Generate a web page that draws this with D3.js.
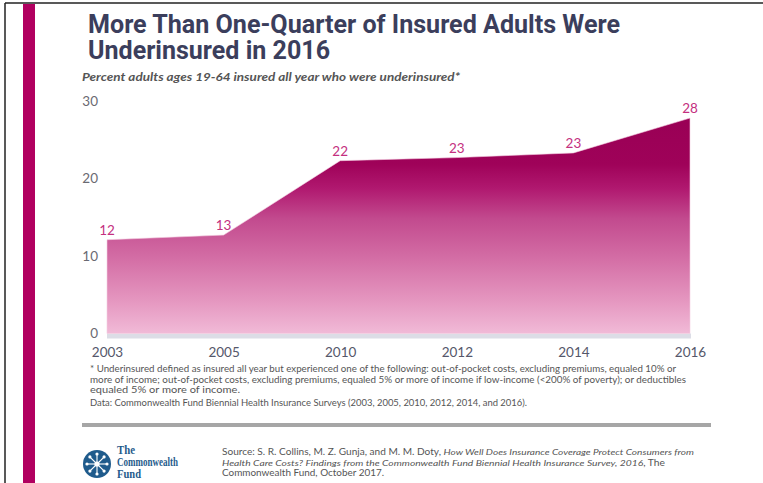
<!DOCTYPE html>
<html>
<head>
<meta charset="utf-8">
<script src="https://cdn.jsdelivr.net/npm/d3@7"></script>
<style>
  html, body { margin: 0; padding: 0; background: #fff; }
  svg { display: block; }
</style>
</head>
<body>
<script>
// ---- data ----
const years = ["2003", "2005", "2010", "2012", "2014", "2016"];
const underinsured = [12.1, 12.7, 22.3, 22.7, 23.3, 27.8];
const yTicks = [0, 10, 20, 30];
const titleLines = ["More Than One-Quarter of Insured Adults Were", "Underinsured in 2016"];
const subtitle = "Percent adults ages 19-64 insured all year who were underinsured*";
const footnotes = [
  "* Underinsured defined as insured all year but experienced one of the following: out-of-pocket costs, excluding premiums, equaled 10% or",
  "more of income; out-of-pocket costs, excluding premiums, equaled 5% or more of income if low-income (<200% of poverty); or deductibles",
  "equaled 5% or more of income.",
  "Data: Commonwealth Fund Biennial Health Insurance Surveys (2003, 2005, 2010, 2012, 2014, and 2016)."
];
const logoLines = ["The", "Commonwealth", "Fund"];

const W = 763, H = 483;
const svg = d3.select("body").append("svg").attr("width", W).attr("height", H);

// frame
svg.append("rect").attr("x", 0).attr("y", 0).attr("width", W).attr("height", H).attr("fill", "#fff");
svg.append("line").attr("x1", 5).attr("x2", W).attr("y1", 3).attr("y2", 3).attr("stroke", "#222").attr("stroke-width", 1.5);
svg.append("line").attr("x1", 5).attr("x2", 5).attr("y1", 3).attr("y2", H).attr("stroke", "#222").attr("stroke-width", 1.5);
svg.append("rect").attr("x", 23).attr("y", 4).attr("width", 12).attr("height", H - 4).attr("fill", "#b10060");

// title
const titleFont = "Roboto, 'Liberation Sans', sans-serif";
const tW = [532, 242];
const tY = [32.5, 59];
titleLines.forEach((t, i) => {
  svg.append("text").attr("x", 88).attr("y", tY[i])
    .attr("font-family", titleFont).attr("font-weight", 700).attr("font-size", 26)
    .attr("fill", "#3b3e5c").attr("textLength", tW[i]).attr("lengthAdjust", "spacingAndGlyphs")
    .text(t);
});
svg.append("text").attr("x", 82).attr("y", 81)
  .attr("font-family", "Lato, 'Open Sans', sans-serif").attr("font-style", "italic").attr("font-weight", 700)
  .attr("font-size", 12).attr("fill", "#555").attr("textLength", 378).attr("lengthAdjust", "spacingAndGlyphs")
  .text(subtitle);

// scales
const x = d3.scalePoint().domain(years).range([107, 690]);
const y = d3.scaleLinear().domain([0, 30]).range([333.5, 101]);
const data = years.map((yr, i) => ({ year: yr, v: underinsured[i] }));

// gradient
const defs = svg.append("defs");
const grad = defs.append("linearGradient").attr("id", "areaGrad")
  .attr("gradientUnits", "userSpaceOnUse").attr("x1", 0).attr("x2", 0).attr("y1", y(28)).attr("y2", y(0));
const stops = [[0, "#990055"], [0.22, "#9f0259"], [0.33, "#b0186f"], [0.47, "#c24a8e"], [0.66, "#d46fa6"], [0.85, "#e597c0"], [1, "#f1bad7"]];
stops.forEach(s => grad.append("stop").attr("offset", s[0]).attr("stop-color", s[1]));

// axis band
svg.append("rect").attr("x", x(years[0])).attr("y", y(0)).attr("width", x(years[years.length - 1]) - x(years[0]) + 1)
  .attr("height", 5).attr("fill", "#dcdde6");

// area
const area = d3.area().x(d => x(d.year)).y0(y(0)).y1(d => y(d.v));
svg.append("path").datum(data).attr("d", area).attr("fill", "url(#areaGrad)")
  .attr("stroke", "#f4cfe1").attr("stroke-width", 0.6);

// y axis labels
const yAxis = d3.axisLeft(y).tickValues(yTicks).tickSize(0).tickPadding(0);
const gy = svg.append("g").attr("transform", "translate(98,0)").call(yAxis);
gy.select(".domain").remove();
gy.selectAll("text").attr("font-family", "Lato, 'Open Sans', sans-serif").attr("font-size", 13.5).attr("fill", "#6a6a72");

// x axis labels
const xAxis = d3.axisBottom(x).tickSize(0).tickPadding(0);
const gx = svg.append("g").attr("transform", "translate(0,347)").call(xAxis);
gx.select(".domain").remove();
gx.selectAll("text").attr("font-family", "Lato, 'Open Sans', sans-serif").attr("font-size", 13.5).attr("fill", "#55576a");

// data labels
svg.append("g").selectAll("text").data(data).join("text")
  .attr("x", d => x(d.year)).attr("y", d => y(d.v) - 5)
  .attr("text-anchor", "middle").attr("font-family", "Lato, 'Open Sans', sans-serif").attr("font-size", 13.5)
  .attr("fill", "#c4307f").text(d => d3.format(".0f")(d.v));

// footnotes
const fnY = [372, 383, 392.5, 406];
const fnW = [586, 596, 150, 437];
footnotes.forEach((t, i) => {
  svg.append("text").attr("x", 90).attr("y", fnY[i]).attr("font-family", "Lato, 'Open Sans', sans-serif")
    .attr("font-size", 8.5).attr("fill", "#555").attr("textLength", fnW[i]).attr("lengthAdjust", "spacingAndGlyphs").text(t);
});

// rule
svg.append("rect").attr("x", 82).attr("y", 423).attr("width", 629).attr("height", 4).attr("fill", "#a6a6a6");

// logo
const lg = svg.append("g").attr("transform", "translate(97,464)");
lg.append("circle").attr("r", 14).attr("fill", "#1f5b8c");
d3.range(8).forEach(k => {
  const a = k * Math.PI / 4;
  lg.append("line").attr("x1", 0).attr("y1", 0).attr("x2", 9.5 * Math.cos(a)).attr("y2", 9.5 * Math.sin(a))
    .attr("stroke", "#fff").attr("stroke-width", 1.1);
  lg.append("circle").attr("cx", 10 * Math.cos(a)).attr("cy", 10 * Math.sin(a)).attr("r", 1.6).attr("fill", "#fff");
});
lg.append("circle").attr("r", 2.6).attr("fill", "#fff");
const logoW = [18, 61, 24];
logoLines.forEach((t, i) => {
  svg.append("text").attr("x", 117).attr("y", 454 + i * 12)
    .attr("font-family", "'Liberation Serif', 'DejaVu Serif', serif").attr("font-weight", 700).attr("font-size", 11.5)
    .attr("fill", "#1f5b8c").attr("textLength", logoW[i]).attr("lengthAdjust", "spacingAndGlyphs").text(t);
});

// source
const srcFont = "Lato, 'Open Sans', sans-serif";
const s1 = svg.append("text").attr("x", 222).attr("y", 455).attr("font-family", srcFont).attr("font-size", 8.5).attr("fill", "#555")
  .attr("textLength", 472).attr("lengthAdjust", "spacingAndGlyphs");
s1.append("tspan").text("Source: S. R. Collins, M. Z. Gunja, and M. M. Doty, ");
s1.append("tspan").attr("font-style", "italic").text("How Well Does Insurance Coverage Protect Consumers from");
const s2 = svg.append("text").attr("x", 222).attr("y", 466).attr("font-family", srcFont).attr("font-size", 8.5).attr("fill", "#555")
  .attr("textLength", 443).attr("lengthAdjust", "spacingAndGlyphs");
s2.append("tspan").attr("font-style", "italic").text("Health Care Costs? Findings from the Commonwealth Fund Biennial Health Insurance Survey, 2016");
s2.append("tspan").text(", The");
svg.append("text").attr("x", 222).attr("y", 475.5).attr("font-family", srcFont).attr("font-size", 8.5).attr("fill", "#555")
  .attr("textLength", 162).attr("lengthAdjust", "spacingAndGlyphs").text("Commonwealth Fund, October 2017.");
</script>
</body>
</html>
